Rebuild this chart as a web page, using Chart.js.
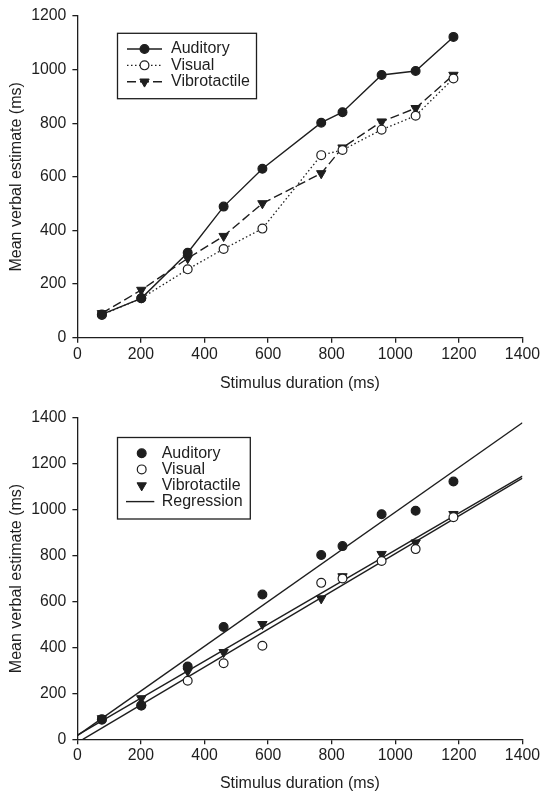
<!DOCTYPE html>
<html>
<head>
<meta charset="utf-8">
<script src="https://cdn.jsdelivr.net/npm/chart.js@4.4.0/dist/chart.umd.min.js"></script>
<style>
body { margin: 0; background: #fff; }
#wrap { position: relative; width: 542px; height: 793px; }
.panel { position: absolute; left: 0; width: 542px; }
</style>
</head>
<body>
<div id="wrap">
  <div class="panel" style="top:0;height:400px"><canvas id="topChart" width="542" height="400"></canvas></div>
  <div class="panel" style="top:400px;height:393px"><canvas id="bottomChart" width="542" height="393"></canvas></div>
</div>
<script>
// stimulus durations (ms) and mean verbal estimates (ms)
const durations = [77, 201, 347, 460, 582, 767, 834, 957, 1064, 1183];
const auditory = [87, 147, 317, 489, 630, 802, 841, 980, 995, 1122];
const visual = [85, 147, 255, 331, 407, 681, 700, 776, 828, 967];
const vibrotactile = [91, 178, 296, 379, 501, 613, 709, 806, 856, 980];

// regression line end points
const audRegX = [0, 1400];
const audRegY = [16, 1378];
const vibRegX = [0, 1400];
const vibRegY = [18, 1146];
const visRegX = [17, 1400];
const visRegY = [0, 1137];

const xTicks = [0, 200, 400, 600, 800, 1000, 1200, 1400];

const INK = '#1e1e1e';
const FONT = "'Liberation Sans', Arial, sans-serif";
Chart.defaults.font.family = FONT;
Chart.defaults.color = INK;

function pts(xs, ys) {
    return xs.map((x, i) => ({ x: x, y: ys[i] }));
}

function drawMarker(ctx, ds, x, y) {
    const r = ds.pointRadius;
    ctx.fillStyle = ds.pointBackgroundColor;
    ctx.strokeStyle = ds.pointBorderColor;
    ctx.lineWidth = ds.pointBorderWidth;
    ctx.setLineDash([]);
    ctx.beginPath();
    if (ds.pointStyle === 'triangle') {
        let rad = (ds.pointRotation || 0) * Math.PI / 180;
        ctx.moveTo(x + Math.sin(rad) * r, y - Math.cos(rad) * r);
        rad += 2 * Math.PI / 3;
        ctx.lineTo(x + Math.sin(rad) * r, y - Math.cos(rad) * r);
        rad += 2 * Math.PI / 3;
        ctx.lineTo(x + Math.sin(rad) * r, y - Math.cos(rad) * r);
        ctx.closePath();
    } else {
        ctx.arc(x, y, r, 0, Math.PI * 2);
    }
    ctx.fill();
    ctx.stroke();
}

// legend in a framed box inside the plot
const boxLegend = {
    id: 'boxLegend',
    afterDraw(chart, args, o) {
        const ctx = chart.ctx;
        ctx.save();
        ctx.fillStyle = '#fff';
        ctx.fillRect(o.x, o.y, o.w, o.h);
        ctx.strokeStyle = INK;
        ctx.lineWidth = 1.3;
        ctx.strokeRect(o.x, o.y, o.w, o.h);
        const seen = {};
        let row = 0;
        chart.data.datasets.forEach(ds => {
            if (seen[ds.label]) return;
            seen[ds.label] = true;
            const y = o.firstRow + row * o.rowGap;
            if (ds.showLine) {
                ctx.strokeStyle = ds.borderColor;
                ctx.lineWidth = ds.borderWidth;
                ctx.setLineDash(ds.borderDash || []);
                ctx.beginPath();
                ctx.moveTo(o.lineX0, y);
                ctx.lineTo(o.lineX1, y);
                ctx.stroke();
                ctx.setLineDash([]);
            }
            if (ds.pointRadius > 0) drawMarker(ctx, ds, o.markX, y);
            ctx.fillStyle = INK;
            ctx.font = '16px ' + FONT;
            ctx.textBaseline = 'middle';
            ctx.textAlign = 'left';
            ctx.fillText(ds.label, o.textX, y);
            row++;
        });
        ctx.restore();
    }
};

function makeScales(yMax, xHeight, xTitlePad) {
    return {
        x: {
            type: 'linear', min: 0, max: 1400,
            afterBuildTicks: s => { s.ticks = xTicks.map(v => ({ value: v })); },
            ticks: { color: INK, font: { size: 15.8 }, padding: 2, maxRotation: 0, autoSkip: false, callback: v => String(v) },
            grid: { drawOnChartArea: false, drawTicks: true, tickLength: 5, color: INK, lineWidth: 1.3 },
            border: { color: INK, width: 1.3 },
            title: { display: true, text: 'Stimulus duration (ms)', color: INK, font: { size: 16 }, padding: { top: 0, bottom: xTitlePad } },
            afterFit: s => { s.height = xHeight; }
        },
        y: {
            type: 'linear', min: 0, max: yMax,
            ticks: { stepSize: 200, color: INK, font: { size: 15.8 }, padding: 6, autoSkip: false, callback: v => String(v) },
            grid: { drawOnChartArea: false, drawTicks: true, tickLength: 5, color: INK, lineWidth: 1.3 },
            border: { color: INK, width: 1.3 },
            title: { display: true, text: 'Mean verbal estimate (ms)', color: INK, font: { size: 16 }, padding: { top: 6.6, bottom: 0 } },
            afterFit: s => { s.width = 77.4; }
        }
    };
}

const audStyle = { pointStyle: 'circle', pointRadius: 4.4, pointBorderWidth: 1.2, pointBackgroundColor: INK, pointBorderColor: INK };
const visStyle = { pointStyle: 'circle', pointRadius: 4.4, pointBorderWidth: 1.2, pointBackgroundColor: '#fff', pointBorderColor: INK };
const vibStyle = { pointStyle: 'triangle', pointRotation: 180, pointRadius: 5.4, pointBorderWidth: 1, pointBackgroundColor: INK, pointBorderColor: INK };

new Chart(document.getElementById('topChart'), {
    type: 'scatter',
    data: {
        datasets: [
            Object.assign({ label: 'Auditory', data: pts(durations, auditory), showLine: true, borderColor: INK, borderWidth: 1.4 }, audStyle),
            Object.assign({ label: 'Visual', data: pts(durations, visual), showLine: true, borderColor: INK, borderWidth: 1.3, borderDash: [1.5, 2.5] }, visStyle),
            Object.assign({ label: 'Vibrotactile', data: pts(durations, vibrotactile), showLine: true, borderColor: INK, borderWidth: 1.4, borderDash: [9, 4] }, vibStyle)
        ]
    },
    options: {
        responsive: false,
        animation: false,
        layout: { padding: { top: 16, right: 17.6, left: 0, bottom: 0 } },
        scales: makeScales(1200, 62.3, 7),
        plugins: {
            legend: { display: false },
            tooltip: { enabled: false },
            boxLegend: { x: 117.5, y: 33.3, w: 139, h: 65.4, firstRow: 49, rowGap: 16.35, lineX0: 127, lineX1: 162, markX: 144.5, textX: 171 }
        }
    },
    plugins: [boxLegend]
});

new Chart(document.getElementById('bottomChart'), {
    type: 'scatter',
    data: {
        datasets: [
            Object.assign({ label: 'Auditory', data: pts(durations, auditory), showLine: false }, audStyle),
            Object.assign({ label: 'Visual', data: pts(durations, visual), showLine: false }, visStyle),
            Object.assign({ label: 'Vibrotactile', data: pts(durations, vibrotactile), showLine: false }, vibStyle),
            { label: 'Regression', data: pts(audRegX, audRegY), showLine: true, borderColor: INK, borderWidth: 1.4, pointRadius: 0 },
            { label: 'Regression', data: pts(vibRegX, vibRegY), showLine: true, borderColor: INK, borderWidth: 1.4, pointRadius: 0 },
            { label: 'Regression', data: pts(visRegX, visRegY), showLine: true, borderColor: INK, borderWidth: 1.4, pointRadius: 0 }
        ]
    },
    options: {
        responsive: false,
        animation: false,
        layout: { padding: { top: 17.7, right: 17.6, left: 0, bottom: 0 } },
        scales: makeScales(1400, 53.7, 0),
        plugins: {
            legend: { display: false },
            tooltip: { enabled: false },
            boxLegend: { x: 117.5, y: 37.5, w: 132.8, h: 81.5, firstRow: 53.3, rowGap: 16.1, lineX0: 126, lineX1: 154.3, markX: 141.7, textX: 161.7 }
        }
    },
    plugins: [boxLegend]
});
</script>
</body>
</html>
